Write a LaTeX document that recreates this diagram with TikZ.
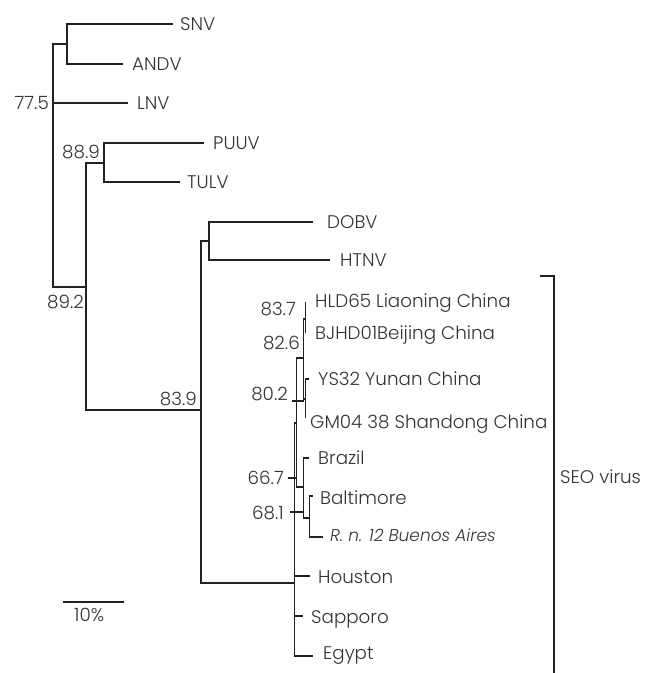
\documentclass[tikz,border=0pt]{standalone}
\usepackage{fontspec}
\IfFontExistsTF{Poppins Light}{\setmainfont{Poppins Light}}{\setmainfont{Poppins}}
\definecolor{textc}{gray}{0.2}
\definecolor{linec}{gray}{0.13}
\newcommand\lblfont{\fontsize{18.3}{21}\selectfont}
\newcommand\itlfont{\fontsize{17}{20}\selectfont\itshape}
\begin{document}
\begin{tikzpicture}[x=1pt,y=-1pt,
  br/.style={draw=linec,line width=1.7pt},
  thin br/.style={draw=linec,line width=1.3pt},
  leaf/.style={anchor=base west,inner sep=0pt,text=textc,font=\lblfont},
  boot/.style={anchor=base east,inner sep=0pt,text=textc,font=\lblfont}]
\useasboundingbox (0,0) rectangle (648,673);
% internal nodes
\coordinate (root) at (53,103);
\coordinate (n1) at (67,44);
\coordinate (n2) at (86,287);
\coordinate (n3) at (104,163);
\coordinate (n4) at (201,410);
\coordinate (n5) at (209,241);
\coordinate (n6) at (294.5,583);
\coordinate (n7) at (296.8,423);
\coordinate (n8) at (303.5,358);
\coordinate (n9) at (305.5,319);
\coordinate (n10) at (305.5,399);
\coordinate (n11) at (303.5,487);
\coordinate (n12) at (309.5,518);
% tips
\coordinate (tSNV) at (173,24);
\coordinate (tANDV) at (123,64);
\coordinate (tLNV) at (128,103);
\coordinate (tPUUV) at (204,143);
\coordinate (tTULV) at (180,182);
\coordinate (tDOBV) at (313,222);
\coordinate (tHTNV) at (330,260);
\coordinate (tHLD) at (305.5,302);
\coordinate (tBJ) at (305.5,333);
\coordinate (tYS) at (309,379);
\coordinate (tGM) at (305.5,418);
\coordinate (tBr) at (309,458);
\coordinate (tBal) at (313,496);
\coordinate (tRn) at (323,537);
\coordinate (tHou) at (310,576);
\coordinate (tSap) at (303,616);
\coordinate (tEgy) at (313,656);
% branches
\draw[br] (root) |- (n1);
\draw[br] (root) |- (n2);
\draw[br] (root) -- (tLNV);
\draw[br] (n1) |- (tSNV);
\draw[br] (n1) |- (tANDV);
\draw[br] (n2) |- (n3);
\draw[br] (n2) |- (n4);
\draw[br] (n3) |- (tPUUV);
\draw[br] (n3) |- (tTULV);
\draw[br] (n4) |- (n5);
\draw[br] (n4) |- (n6);
\draw[br] (n5) |- (tDOBV);
\draw[br] (n5) |- (tHTNV);
\draw[br] (n6) |- (n7);
\draw[br] (n6) |- (tHou);
\draw[br] (n6) |- (tSap);
\draw[br] (n6) |- (tEgy);
\draw[thin br] (n7) |- (n8);
\draw[thin br] (n7) |- (n11);
\draw[thin br] (n8) |- (n9);
\draw[thin br] (n8) |- (n10);
\draw[thin br] (n9) |- (tHLD);
\draw[thin br] (n9) |- (tBJ);
\draw[thin br] (n10) |- (tYS);
\draw[thin br] (n10) |- (tGM);
\draw[thin br] (n11) |- (tBr);
\draw[br] (n11) |- (n12);
\draw[br] (n12) |- (tBal);
\draw[br] (n12) |- (tRn);
% label leader ticks
\coordinate (k80a) at (292,401); \coordinate (k80b) at (303.5,401);
\coordinate (k66a) at (288,478); \coordinate (k66b) at (296.8,478);
\coordinate (k68a) at (290,512); \coordinate (k68b) at (303.5,512);
\draw[thin br] (k80a) -- (k80b);
\draw[thin br] (k66a) -- (k66b);
\draw[thin br] (k68a) -- (k68b);
% leaf labels
\node[leaf] (SNV) at (180,30.3) {SNV};
\node[leaf] (ANDV) at (132,70.3) {ANDV};
\node[leaf] (LNV) at (137,109.3) {LNV};
\node[leaf] (PUUV) at (213,149.3) {PUUV};
\node[leaf] (TULV) at (187,188.3) {TULV};
\node[leaf] (DOBV) at (327,228.3) {DOBV};
\node[leaf] (HTNV) at (340,266.3) {HTNV};
\node[leaf] (HLD) at (315,307.3) {HLD65 Liaoning China};
\node[leaf] (BJ) at (315,339.3) {BJHD01Beijing China};
\node[leaf] (YS) at (318,385.3) {YS32 Yunan China};
\node[leaf] (GM) at (310,428.3) {GM04 38 Shandong China};
\node[leaf] (Br) at (318,464.3) {Brazil};
\node[leaf] (Bal) at (320,504.3) {Baltimore};
\node[leaf,font=\itlfont] (Rn) at (330,541) {R. n. 12 Buenos Aires};
\node[leaf] (Hou) at (318,583.3) {Houston};
\node[leaf] (Sap) at (311,623.3) {Sapporo};
\node[leaf] (Egy) at (323,659.3) {Egypt};
% bootstrap values
\node[boot] (b775) at (49,109.3) {77.5};
\node[boot] (b889) at (100,158.3) {88.9};
\node[boot] (b892) at (84,308.3) {89.2};
\node[boot] (b839) at (197,405.3) {83.9};
\node[boot] (b837) at (296,315.3) {83.7};
\node[boot] (b826) at (300,349.3) {82.6};
\node[boot] (b802) at (288,400.3) {80.2};
\node[boot] (b667) at (284,484.3) {66.7};
\node[boot] (b681) at (284,519.3) {68.1};
% SEO bracket
\coordinate (brA) at (540,276);
\coordinate (brB) at (554,276);
\coordinate (brC) at (554,673);
\draw[br] (brA) -- (brB) -- (brC);
\node[leaf] (SEO) at (560,483.3) {SEO virus};
% scale bar
\coordinate (sbA) at (63,602);
\coordinate (sbB) at (124,602);
\draw[thin br] (sbA) -- (sbB);
\node[leaf] (sb) at (74,621.3) {10\%};
\end{tikzpicture}
\end{document}
